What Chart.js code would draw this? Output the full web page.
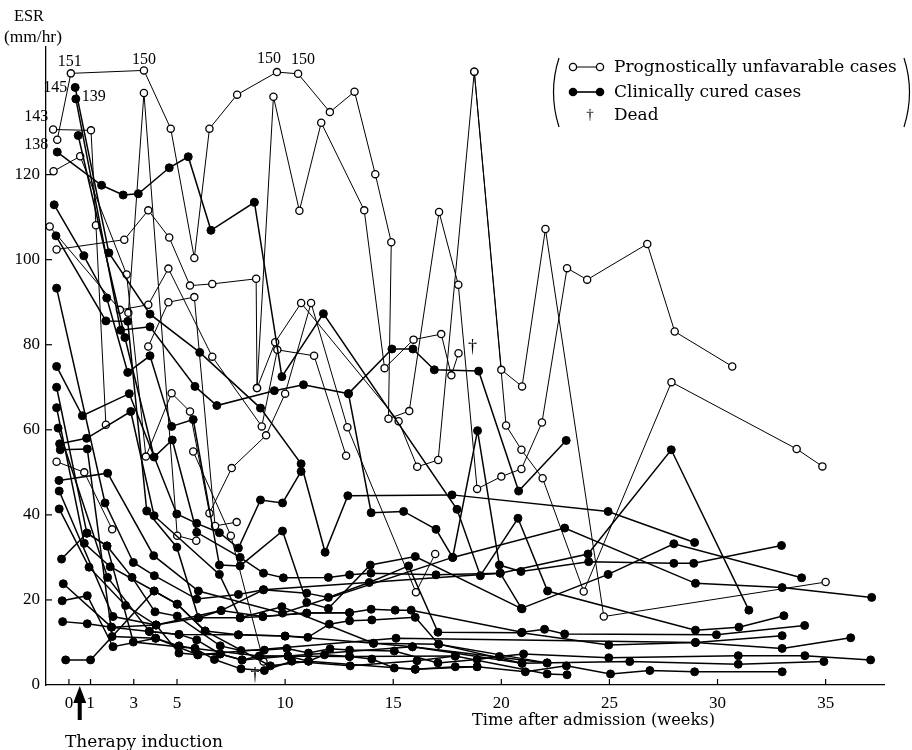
<!DOCTYPE html>
<html>
<head>
<meta charset="utf-8">
<script src="https://cdn.jsdelivr.net/npm/chart.js@4/dist/chart.umd.min.js"></script>
<style>
html,body{margin:0;padding:0;background:#fff;}
#wrap{width:912px;height:750px;position:relative;}
</style>
</head>
<body>
<div id="wrap"><canvas id="c" width="912" height="750"></canvas></div>
<script>
// ---------------- DATA (week after admission, ESR mm/hr) ----------------
const weekTicks = [0, 1, 3, 5, 10, 15, 20, 25, 30, 35];
const esrTicks = [0, 20, 40, 60, 80, 100, 120];

// Prognostically unfavourable cases (open circles)
const u01 = [[-0.54,128.2],[0.09,143.8],[3.47,144.5],[4.71,130.8],[5.8,100.4],[6.5,130.8],[7.78,138.8],[9.62,144.1],[10.6,143.7],[12.07,134.7],[13.21,139.5],[14.17,120.1],[14.91,104.1],[14.78,62.6],[15.74,64.4],[17.12,111.2],[18.01,94.1],[18.88,46.1],[20.0,49.0],[20.93,50.8],[21.88,61.7],[23.04,98.0],[23.97,95.3],[26.75,103.7],[28.02,83.1],[30.68,74.9]];
const u02 = [[-0.73,130.6],[1.02,130.4],[1.25,108.1],[1.71,61.2]];
const u03 = [[-0.71,120.8],[0.52,124.3],[2.67,96.5],[3.56,53.7],[4.75,68.6],[5.6,64.3],[6.5,40.4],[7.53,51.0],[9.12,58.7],[10.0,68.5],[11.2,89.8],[12.88,60.6],[16.05,21.8],[16.94,30.8]];
const u04 = [[-0.57,52.5],[0.71,50.0],[2.0,36.6]];
const u05 = [[-0.89,107.8],[2.36,88.2],[3.67,89.4],[4.6,97.9],[6.63,77.2],[8.92,60.8],[9.64,78.8],[11.34,77.4],[12.82,53.9]];
const u06 = [[2.75,87.5],[3.47,139.2],[5.01,35.1],[5.89,33.9]];
const u07 = [[3.67,79.6],[4.6,90.0],[5.8,91.2],[6.76,37.4],[7.76,38.3]];
const u08 = [[-0.57,102.4],[2.56,104.7],[3.67,111.6],[4.64,105.2],[5.6,93.9],[6.63,94.3],[8.66,95.5],[8.7,69.8],[9.46,138.3],[10.66,111.5],[11.67,132.2],[13.66,111.6],[14.6,74.5],[15.94,81.2],[17.22,82.5],[17.69,72.8],[18.02,78.0]];
const u09 = [[5.75,54.9],[7.49,35.1],[9.0,5.5]];
const u10 = [[8.7,69.8],[9.54,80.6],[10.74,89.8],[15.25,62.0],[16.11,51.3],[17.08,52.9],[18.75,144.2],[20.0,74.1],[20.96,70.2],[22.04,107.2],[24.74,16.1],[35.0,24.2]];
const u11 = [[18.75,144.2],[20.22,61.0],[20.93,55.3],[21.91,48.6],[23.81,22.0],[27.87,71.2],[33.66,55.5],[34.85,51.4]];

// Clinically cured cases (filled circles)
const c01 = [[-0.54,125.3],[1.51,117.5],[2.51,115.2],[3.21,115.5],[4.64,121.6],[5.52,124.2],[6.57,106.9],[8.58,113.5],[9.85,72.5],[11.77,87.3],[17.95,41.3],[19.03,25.7],[20.77,39.2],[22.14,22.1],[28.98,12.9],[30.99,13.6],[33.07,16.3]];
const c02 = [[0.29,140.5],[1.85,101.6],[3.75,87.2],[6.05,78.2],[8.86,65.1],[10.74,52.0],[11.85,31.2],[12.9,44.5],[17.72,44.7],[24.94,40.8],[28.94,33.5]];
const c03 = [[0.32,137.8],[2.39,83.4],[3.75,84.2],[5.83,70.2],[6.84,65.7],[9.5,69.2],[10.85,70.6],[12.93,68.5],[13.98,40.5],[15.48,40.8],[16.98,36.6],[17.75,30.0],[18.9,59.8],[19.91,28.2],[20.91,26.7],[24.04,29.0],[27.98,28.6],[28.9,28.6],[32.96,32.8]];
const c04 = [[0.43,129.2],[2.59,81.7],[3.94,53.6],[4.78,57.6],[5.91,35.9],[7.92,30.0],[9.0,26.3],[9.92,25.2],[12.0,25.3],[12.98,25.9],[13.97,26.3],[16.98,25.9],[19.95,26.3],[20.93,18.0],[24.94,26.0],[27.98,33.2],[33.89,25.2]];
const c05 = [[-0.68,112.9],[0.69,100.9],[1.75,91.0],[2.72,73.5],[3.75,77.4],[4.75,60.8],[5.75,62.4],[6.96,28.2],[7.92,28.0],[9.88,36.2],[11.0,19.4],[12.0,18.0],[13.94,28.2],[16.02,30.2],[20.96,17.9]];
const c06 = [[-0.6,105.6],[1.71,85.6],[2.72,85.5],[3.6,40.9],[4.99,32.4],[5.99,15.8],[7.04,17.5],[8.97,16.1],[11.0,16.9],[12.98,17.0],[13.98,17.8],[15.09,17.6],[15.83,17.6],[20.96,12.4],[22.0,13.1],[22.93,12.0],[29.95,11.8],[34.03,14.0]];
const c07 = [[-0.57,93.3],[1.67,42.8],[2.98,28.8],[3.95,25.7],[5.91,20.2],[7.84,21.3],[9.0,22.4],[11.0,21.6],[12.0,20.6],[13.89,24.1],[15.71,28.0],[17.07,12.4],[20.93,12.3],[24.97,9.4],[28.98,10.0],[32.99,8.6],[36.16,11.1]];
const c08 = [[-0.57,74.9],[0.62,63.3],[2.79,68.5],[4.99,40.2],[5.91,38.0],[6.96,35.8],[7.84,32.2],[8.86,43.5],[9.88,42.8],[10.74,50.2]];
const c09 = [[-0.57,70.0],[0.83,35.7],[1.76,32.7],[2.92,25.3],[3.98,17.2],[5.01,16.2],[7.0,9.2],[7.96,8.1],[9.04,8.2],[10.08,8.6],[11.08,7.5],[12.08,8.5],[12.98,8.2],[15.05,8.0],[17.07,5.2],[18.88,6.0],[19.91,6.7],[21.03,7.3],[24.97,6.4],[30.96,6.9],[34.04,6.9],[37.08,5.9]];
const c10 = [[-0.57,65.2],[0.71,33.3],[1.91,27.8],[3.94,22.1],[5.01,19.0],[6.3,12.7],[7.84,11.8],[10.0,11.5],[11.05,11.2],[12.04,14.3],[12.98,15.1],[14.01,15.3],[16.02,15.9],[17.1,9.6],[20.96,5.1],[25.94,5.5],[30.96,4.9],[34.92,5.5]];
const c11 = [[-0.5,60.4],[1.79,25.3],[3.72,12.6],[5.09,11.9],[5.91,10.6],[7.0,7.3],[8.01,5.9],[8.81,6.8],[10.13,6.8],[11.08,5.6],[11.82,7.1],[12.98,6.7],[14.01,6.1],[15.05,4.0],[16.02,3.7],[17.87,4.3],[18.88,4.3],[21.11,3.1],[23.01,4.5],[25.05,2.6],[26.87,3.4],[28.94,3.1],[32.99,3.1]];
const c12 = [[-0.43,56.7],[0.82,58.0],[2.86,64.3],[3.94,39.8],[6.96,26.0],[7.92,15.8],[9.85,18.4],[14.09,9.8],[15.89,9.0],[22.12,5.2]];
const c13 = [[-0.4,55.3],[0.85,55.5],[2.0,11.4],[4.01,11.0],[5.09,9.2],[5.83,8.6],[6.73,6.0],[7.96,3.8],[9.04,3.4],[10.31,5.6],[13.01,4.5],[16.1,5.7],[17.87,6.8],[22.12,2.6],[23.04,2.4]];
const c14 = [[-0.46,48.1],[1.79,49.8],[3.92,30.4],[5.99,22.1],[9.88,16.9],[17.75,30.0],[22.93,36.9],[28.98,23.9],[32.99,22.9],[37.13,20.6]];
const c15 = [[-0.45,45.6],[2.04,16.1],[4.03,14.1],[5.09,7.5],[5.96,7.1],[15.13,11.0],[28.98,10.0],[32.99,11.6]];
const c16 = [[-0.45,41.4],[0.93,27.7],[2.62,18.7],[4.03,14.1],[7.04,17.5],[9.0,22.4],[19.95,26.3],[24.01,30.8],[27.86,55.3],[31.45,17.6]];
const c17 = [[-0.34,29.6],[0.83,35.7],[1.76,32.7],[2.98,10.1],[5.83,8.6],[8.81,6.8],[12.98,6.7],[17.87,6.8]];
const c18 = [[-0.26,23.8],[1.97,13.6],[4.03,14.1],[5.99,15.8],[7.92,15.8],[8.97,16.1],[11.0,16.9],[12.98,17.0]];
const c19 = [[-0.31,19.8],[0.85,21.0],[2.04,9.0],[4.01,11.0],[5.96,7.1],[7.0,7.3],[8.01,5.9],[10.13,6.8],[15.89,9.0],[20.96,5.1]];
const c20 = [[-0.29,14.9],[0.85,14.4],[1.97,13.6],[3.72,12.6],[5.09,11.9],[7.84,11.8],[10.0,11.5],[14.09,9.8],[17.1,9.6],[22.12,5.2]];
const c21 = [[-0.15,5.9],[1.0,5.9],[3.94,22.1],[5.01,19.0],[6.3,12.7],[9.32,4.5],[11.08,5.6],[16.02,3.7],[18.88,4.3]];
const c22 = [[12.93,68.5],[14.94,79.0],[15.91,79.0],[16.9,74.1],[18.95,73.8],[20.8,45.6],[23.0,57.5]];

const unfavourableCases = [u01,u02,u03,u04,u05,u06,u07,u08,u09,u10,u11];
const curedCases = [c01,c02,c03,c04,c05,c06,c07,c08,c09,c10,c11,c12,c13,c14,c15,c16,c17,c18,c19,c20,c21,c22];

// Deaths (week, ESR)
const deadMarks = [[18.67,79.3],[8.61,2.4]];
// Values written beside off-scale peaks
const peakLabelText = ['151','150','150','150','145','139','143','138'];
const peakLabelPoint = [[0.09,143.8],[3.47,144.5],[9.62,144.1],[10.6,143.7],[0.29,140.5],[0.32,137.8],[-0.73,130.6],[-0.54,128.2]];
const therapyWeek = 0.5;

const legendTexts = ['Prognostically unfavarable cases','Clinically cured cases','Dead'];
const xTitle = 'Time after admission (weeks)';
const therapyText = 'Therapy induction';
const yTitle = ['ESR', '(mm/hr)'];

// ---------------- STYLE / DRAWING ----------------
const NUMFONT = '"Liberation Serif", "Times New Roman", serif';
const TXTFONT = '"DejaVu Serif", "Liberation Serif", serif';
// pixel offsets for peak labels [dx, dy, align]
const peakLabelOffsets = [[-1,-12,'center'],[0,-11,'center'],[-8,-13,'center'],[5,-14,'center'],[-8,0,'right'],[6,-2,'left'],[-5,-13,'right'],[-9,5,'right']];

function fitFont(ctx, text, width, family) {
  ctx.font = '20px ' + family;
  const w = ctx.measureText(text).width;
  return (20 * width / w).toFixed(2) + 'px ' + family;
}

function makeSet(points, open) {
  return {
    data: points.map(p => ({x: p[0], y: p[1]})),
    showLine: true,
    borderColor: '#000',
    borderWidth: open ? 1 : 1.5,
    pointRadius: open ? 3.6 : 4,
    pointHoverRadius: 0,
    pointBackgroundColor: open ? '#fff' : '#000',
    pointBorderColor: '#000',
    pointBorderWidth: open ? 1.3 : 1,
    tension: 0,
    clip: false
  };
}

const datasets = [];
curedCases.forEach(s => datasets.push(makeSet(s, false)));
unfavourableCases.forEach(s => datasets.push(makeSet(s, true)));

const extras = {
  id: 'extras',
  afterDraw(chart) {
    const ctx = chart.ctx;
    const xs = chart.scales.x, ys = chart.scales.y;
    const area = chart.chartArea;
    ctx.save();
    ctx.strokeStyle = '#000';
    ctx.fillStyle = '#000';
    ctx.lineWidth = 1.2;
    // inner tick marks
    weekTicks.forEach(w => {
      const px = xs.getPixelForValue(w);
      ctx.beginPath(); ctx.moveTo(px, area.bottom); ctx.lineTo(px, area.bottom - 6); ctx.stroke();
    });
    esrTicks.forEach(v => {
      if (v === 0) return;
      const py = ys.getPixelForValue(v);
      ctx.beginPath(); ctx.moveTo(area.left, py); ctx.lineTo(area.left + 6, py); ctx.stroke();
    });
    // peak labels
    ctx.font = '16px ' + NUMFONT;
    ctx.textBaseline = 'middle';
    peakLabelText.forEach((t, i) => {
      const p = peakLabelPoint[i], o = peakLabelOffsets[i];
      ctx.textAlign = o[2];
      ctx.fillText(t, xs.getPixelForValue(p[0]) + o[0], ys.getPixelForValue(p[1]) + o[1]);
    });
    // dead marks
    ctx.font = '18px ' + NUMFONT;
    ctx.textAlign = 'center';
    deadMarks.forEach(d => {
      ctx.fillText('\u2020', xs.getPixelForValue(d[0]), ys.getPixelForValue(d[1]));
    });
    // axis titles
    ctx.textAlign = 'left';
    ctx.textBaseline = 'alphabetic';
    ctx.font = fitFont(ctx, yTitle[0], 30, NUMFONT);
    ctx.fillText(yTitle[0], 14, 21);
    ctx.font = fitFont(ctx, yTitle[1], 58, NUMFONT);
    ctx.fillText(yTitle[1], 4, 42);
    ctx.font = fitFont(ctx, xTitle, 243, TXTFONT);
    ctx.fillText(xTitle, 472, 725);
    ctx.font = fitFont(ctx, therapyText, 158, TXTFONT);
    ctx.fillText(therapyText, 65, 747);
    // arrow
    const ax = xs.getPixelForValue(therapyWeek);
    ctx.beginPath();
    ctx.moveTo(ax, area.bottom + 1);
    ctx.lineTo(ax - 6.5, area.bottom + 18);
    ctx.lineTo(ax + 6.5, area.bottom + 18);
    ctx.closePath(); ctx.fill();
    ctx.fillRect(ax - 2, area.bottom + 16, 4, 19);
    // legend
    ctx.lineWidth = 1.2;
    ctx.beginPath(); ctx.moveTo(559, 58); ctx.quadraticCurveTo(548, 92, 559, 127); ctx.stroke();
    ctx.beginPath(); ctx.moveTo(904, 58); ctx.quadraticCurveTo(915, 92, 904, 127); ctx.stroke();
    const ly = [67, 92, 115];
    ctx.lineWidth = 1;
    ctx.beginPath(); ctx.moveTo(573, ly[0]); ctx.lineTo(600, ly[0]); ctx.stroke();
    [573, 600].forEach(cx => {
      ctx.beginPath(); ctx.arc(cx, ly[0], 3.6, 0, Math.PI * 2);
      ctx.fillStyle = '#fff'; ctx.fill(); ctx.lineWidth = 1.3; ctx.stroke();
    });
    ctx.fillStyle = '#000';
    ctx.lineWidth = 1.6;
    ctx.beginPath(); ctx.moveTo(573, ly[1]); ctx.lineTo(600, ly[1]); ctx.stroke();
    [573, 600].forEach(cx => {
      ctx.beginPath(); ctx.arc(cx, ly[1], 4.3, 0, Math.PI * 2); ctx.fill();
    });
    ctx.font = '15px ' + NUMFONT;
    ctx.textAlign = 'center';
    ctx.textBaseline = 'middle';
    ctx.fillText('\u2020', 590, ly[2]);
    ctx.font = fitFont(ctx, legendTexts[0], 283, TXTFONT);
    ctx.textAlign = 'left';
    legendTexts.forEach((t, i) => ctx.fillText(t, 614, ly[i] + 1));
    ctx.restore();
  }
};

new Chart(document.getElementById('c'), {
  type: 'scatter',
  data: { datasets },
  options: {
    responsive: false,
    animation: false,
    events: [],
    layout: { padding: { left: 0, right: 28, top: 47, bottom: 0 } },
    plugins: { legend: { display: false }, tooltip: { enabled: false } },
    scales: {
      x: {
        type: 'linear', min: -1.06, max: 37.7,
        afterBuildTicks: s => { s.ticks = weekTicks.map(v => ({ value: v })); },
        afterFit: s => { s.height = 65; },
        grid: { display: false, drawTicks: false },
        border: { display: true, color: '#000', width: 1.3 },
        ticks: { color: '#000', font: { family: NUMFONT, size: 17 }, padding: 8, maxRotation: 0, autoSkip: false, callback: v => String(v) }
      },
      y: {
        type: 'linear', min: 0, max: 150,
        afterBuildTicks: s => { s.ticks = esrTicks.map(v => ({ value: v })); },
        afterFit: s => { s.width = 46; },
        grid: { display: false, drawTicks: false },
        border: { display: true, color: '#000', width: 1.3 },
        ticks: { color: '#000', font: { family: NUMFONT, size: 17 }, padding: 6, callback: v => String(v) }
      }
    }
  },
  plugins: [extras]
});
</script>
</body>
</html>
